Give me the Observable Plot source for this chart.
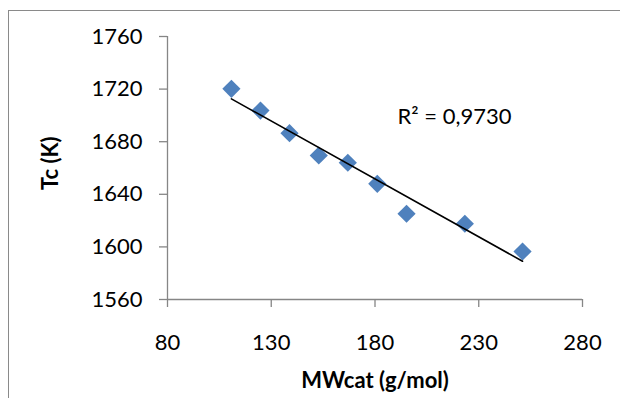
<!DOCTYPE html>
<html><head><meta charset="utf-8">
<script src="https://cdn.jsdelivr.net/npm/d3@7"></script>
<script src="https://cdn.jsdelivr.net/npm/@observablehq/plot@0.6"></script>
<style>
html,body{margin:0;padding:0;background:#fff;overflow:hidden;}
#wrap{position:relative;width:620px;height:398px;overflow:hidden;}
#wrap svg{position:absolute;left:0;top:0;}
#border{position:absolute;left:8px;top:10px;width:700px;height:500px;border:1.5px solid #8a8a8a;box-sizing:border-box;pointer-events:none;}
</style></head><body>
<div id="wrap"><div id="border"></div></div>
<script>
const mw = [110.8, 124.8, 138.8, 152.9, 166.9, 181.1, 195.2, 223.3, 251.1];
const tc = [1720.2, 1703.7, 1686.5, 1669.5, 1664.0, 1648.0, 1625.2, 1617.6, 1596.5];
const xTicks = [80, 130, 180, 230, 280];
const yTicks = [1560, 1600, 1640, 1680, 1720, 1760];
const xTitle = "MWcat (g/mol)";
const yTitle = "Tc (K)";
const r2Label = "R² = 0,9730";

const data = mw.map((x, i) => ({x, y: tc[i]}));
const font = "Lato, 'Open Sans', sans-serif";
const axisColor = "#868686";

const chart = Plot.plot({
  width: 620, height: 398,
  marginLeft: 167, marginRight: 38, marginTop: 36, marginBottom: 99,
  style: {fontFamily: font, fontSize: "22px", color: "#000", background: "transparent"},
  x: {domain: [xTicks[0], xTicks[xTicks.length - 1]]},
  y: {domain: [yTicks[0], yTicks[yTicks.length - 1]]},
  marks: [
    Plot.ruleX([xTicks[0]], {stroke: axisColor, strokeWidth: 1.3}),
    Plot.ruleY([yTicks[0]], {stroke: axisColor, strokeWidth: 1.3}),
    Plot.axisX({ticks: xTicks, tickSize: 8, tickPadding: 27, tickFormat: d => String(d),
      stroke: axisColor, fill: "#000", strokeWidth: 1.3, fontSize: 22, label: null}),
    Plot.axisY({ticks: yTicks, tickSize: 8, tickPadding: 17, tickFormat: d => String(d),
      stroke: axisColor, fill: "#000", strokeWidth: 1.3, fontSize: 22, label: null}),
    Plot.dot(data, {x: "x", y: "y", symbol: "diamond2", r: 8.2, fill: "#4F81BD", stroke: "none"}),
    Plot.linearRegressionY(data, {x: "x", y: "y", ci: 0, stroke: "#000", strokeWidth: 1.6}),
    Plot.text([r2Label], {text: d => d, frameAnchor: "top-left", dx: 230, dy: 80,
      textAnchor: "start", lineAnchor: "middle", fontSize: 22, fill: "#000"}),
    Plot.text([xTitle], {text: d => d, frameAnchor: "bottom", dy: 81, lineAnchor: "middle",
      fontSize: 22, fontWeight: "bold", fill: "#000"}),
    Plot.text([yTitle], {text: d => d, frameAnchor: "left", dx: -117, dy: 22, rotate: -90,
      lineAnchor: "middle", fontSize: 22, fontWeight: "bold", fill: "#000"})
  ]
});
document.getElementById("wrap").prepend(chart);
</script>
</body></html>
